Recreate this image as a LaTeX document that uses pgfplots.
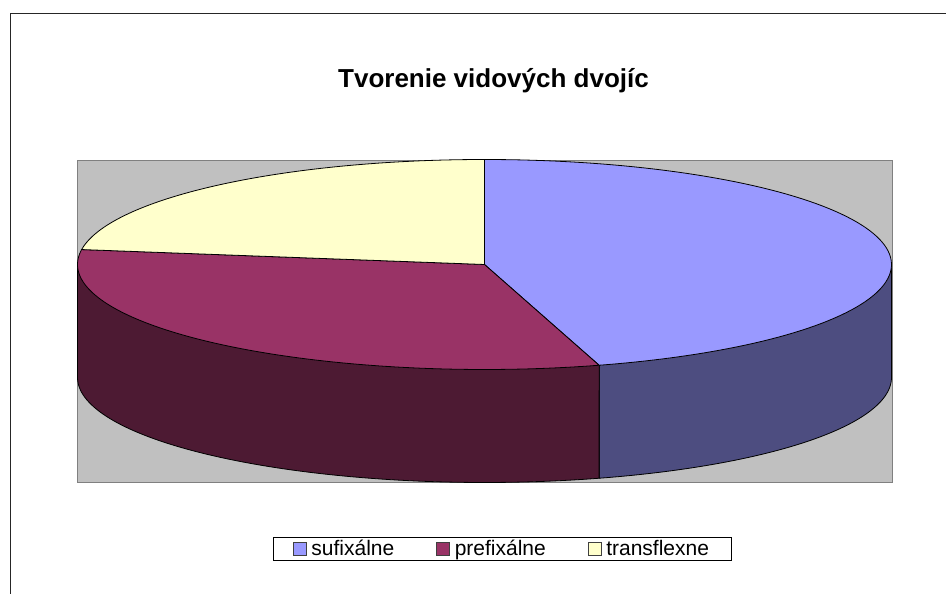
\documentclass[border=0pt]{standalone}
\usepackage{pgfplots}
\pgfplotsset{compat=1.18}
\usepackage{fontspec}
\setmainfont{Liberation Sans}
\definecolor{sufA}{HTML}{9999FF}
\definecolor{sufB}{HTML}{4D4D80}
\definecolor{preA}{HTML}{993366}
\definecolor{preB}{HTML}{4D1A33}
\definecolor{traA}{HTML}{FFFFCC}
\definecolor{plotgray}{HTML}{C0C0C0}
\pgfplotsset{sq/.style={legend image code/.code={\draw[##1, draw=black!75, line width=0.9pt] (0pt,-6.5pt) rectangle (13pt,6.5pt);\path[draw=none, fill=none] (13pt,0pt) -- (16pt,0pt);}}}
\begin{document}
\begin{tikzpicture}
\useasboundingbox (0,0) rectangle (946pt,594pt);
\draw[line width=1.3pt, draw=black!85] (10.5pt,-10pt) -- (10.5pt,580.5pt) -- (960pt,580.5pt);
% data: sufixalne, prefixalne, transflexne
\def\vA{20}\def\vB{14}\def\vC{10}
\pgfmathsetmacro\tot{\vA+\vB+\vC}
\pgfmathsetmacro\aB{90-360*\vA/\tot}
\pgfmathsetmacro\aC{\aB-360*\vB/\tot}
\pgfmathsetmacro\aD{\aC-360*\vC/\tot}
\def\cx{484.5}\def\cy{329.5}\def\rx{407}\def\ry{105}\def\dd{113}
\pgfmathsetmacro\bx{\cx+\rx*cos(\aB)}
\pgfmathsetmacro\by{\cy+\ry*sin(\aB)}
\pgfmathsetmacro\rgt{\cx+\rx}
\pgfmathsetmacro\lft{\cx-\rx}
\begin{axis}[at={(77pt,112pt)}, anchor=south west, scale only axis,
  width=815pt, height=322pt, xmin=77, xmax=892, ymin=112, ymax=434,
  xtick=\empty, ytick=\empty, clip=false,
  axis line style={draw=black!50, line width=0.9pt},
  axis background/.style={fill=plotgray},
  legend columns=3,
  legend style={at={(0.5215,-0.2065)}, anchor=center, draw=black, line width=0.8pt,
    font=\fontsize{21}{22}\selectfont, inner xsep=20pt, inner ysep=1pt,
    nodes={inner sep=2pt, anchor=west},
    /tikz/every even column/.append style={column sep=40pt}},
  ]
% walls
\addplot[forget plot, fill=sufB, draw=black, line width=0.8pt, domain=\aB:0, samples=80, variable=\t]
  ({\cx+\rx*cos(\t)},{\cy-\dd+\ry*sin(\t)}) -- (\rgt,\cy) -- (\cx,\cy) -- (\bx,\by) -- cycle;
\addplot[forget plot, fill=preB, draw=black, line width=0.8pt, domain=-180:\aB, samples=80, variable=\t]
  ({\cx+\rx*cos(\t)},{\cy-\dd+\ry*sin(\t)}) -- (\bx,\by) -- (\cx,\cy) -- (\lft,\cy) -- cycle;
% top faces
\addplot[forget plot, fill=sufA, draw=black, line width=0.8pt, domain=\aB:90, samples=100, variable=\t]
  ({\cx+\rx*cos(\t)},{\cy+\ry*sin(\t)}) -- (\cx,\cy) -- cycle;
\addplot[forget plot, fill=preA, draw=black, line width=0.8pt, domain=\aC:\aB, samples=100, variable=\t]
  ({\cx+\rx*cos(\t)},{\cy+\ry*sin(\t)}) -- (\cx,\cy) -- cycle;
\addplot[forget plot, fill=traA, draw=black, line width=0.8pt, domain=\aD:\aC, samples=80, variable=\t]
  ({\cx+\rx*cos(\t)},{\cy+\ry*sin(\t)}) -- (\cx,\cy) -- cycle;
\addlegendimage{sq, fill=sufA}
\addlegendentry{sufixálne}
\addlegendimage{sq, fill=preA}
\addlegendentry{prefixálne}
\addlegendimage{sq, fill=traA}
\addlegendentry{transflexne}
\end{axis}
\node[font=\bfseries\fontsize{26}{30}\selectfont, anchor=base] at (493.5pt,506pt) {Tvorenie vidových dvojíc};
\end{tikzpicture}
\end{document}
